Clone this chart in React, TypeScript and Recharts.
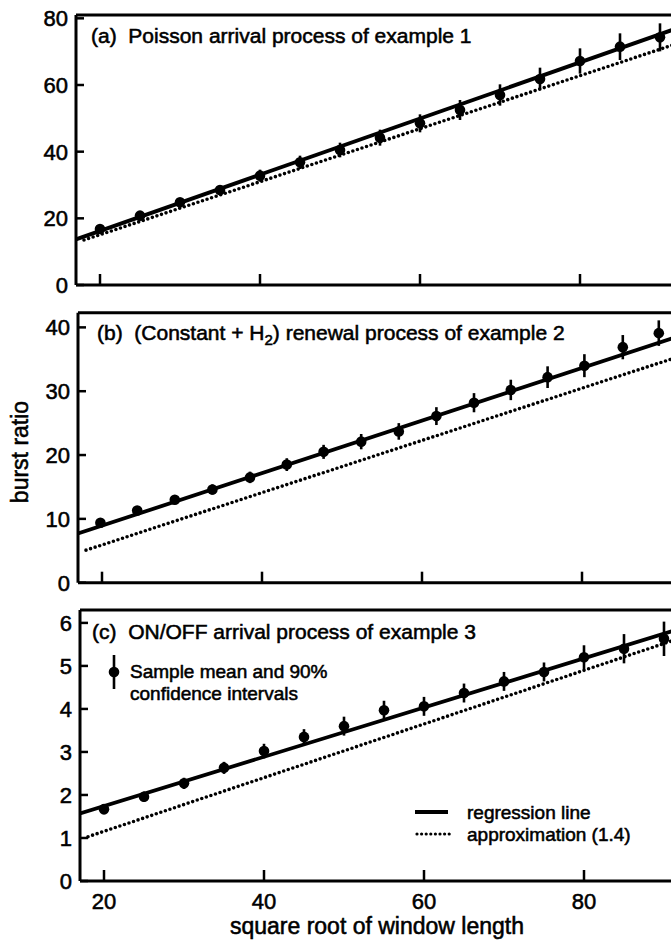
import React from 'react';
import { ComposedChart, Line, Scatter, XAxis, YAxis, ErrorBar, ReferenceLine } from 'recharts';

const FONT = '"Liberation Sans", Arial, Helvetica, sans-serif';
const TXT_STROKE = 0.55;

// shared x axis
const xDomain = [17, 94];
const xTicks = [20, 40, 60, 80];

// panel (a): Poisson arrival process of example 1
const xA = [20, 25, 30, 35, 40, 45, 50, 55, 60, 65, 70, 75, 80, 85, 90];
const meanA = [16.8, 20.8, 24.8, 28.5, 32.8, 36.8, 40.5, 44.2, 48.5, 52.5, 57.0, 61.8, 67.2, 71.5, 74.3];
const errA = [0.8, 1.0, 1.2, 1.5, 1.8, 2.0, 2.2, 2.4, 2.7, 3.0, 3.2, 3.4, 3.8, 4.0, 4.2];
const regXA = [17, 94];
const regYA = [13.7, 78.6];
const apxXA = [18, 94];
const apxYA = [13.5, 73.9];
const yTicksA = [0, 20, 40, 60, 80];
const yDomA = [0, 81];

// panel (b): (Constant + H2) renewal process of example 2
const xB = [19.8, 24.4, 29.1, 33.8, 38.5, 43.1, 47.7, 52.4, 57.1, 61.8, 66.5, 71.1, 75.7, 80.3, 85.1, 89.6];
const meanB = [9.4, 11.3, 13.0, 14.6, 16.5, 18.5, 20.5, 22.1, 23.7, 26.1, 28.2, 30.2, 32.2, 34.0, 36.9, 39.1];
const errB = [0.5, 0.6, 0.7, 0.8, 0.9, 1.0, 1.1, 1.2, 1.3, 1.4, 1.5, 1.6, 1.7, 1.8, 1.9, 2.0];
const regXB = [17, 94];
const regYB = [7.7, 39.4];
const apxXB = [18, 94];
const apxYB = [5.1, 36.2];
const yTicksB = [0, 10, 20, 30, 40];
const yDomB = [0, 42.3];

// panel (c): ON/OFF arrival process of example 3
const xC = [20, 25, 30, 35, 40, 45, 50, 55, 60, 65, 70, 75, 80, 85, 90];
const meanC = [1.67, 1.96, 2.27, 2.63, 3.02, 3.35, 3.6, 3.97, 4.06, 4.37, 4.64, 4.86, 5.2, 5.4, 5.63];
const errC = [0.12, 0.12, 0.13, 0.14, 0.17, 0.18, 0.22, 0.22, 0.22, 0.22, 0.22, 0.22, 0.28, 0.34, 0.4];
const regXC = [17, 94];
const regYC = [1.57, 5.98];
const apxXC = [18, 94];
const apxYC = [1.03, 5.77];
const yTicksC = [0, 1, 2, 3, 4, 5, 6];
const yDomC = [0, 6.3];

const toPts = (xs: number[], ys: number[], es: number[]) => xs.map((x, i) => ({ x, y: ys[i], e: es[i] }));
const toLine = (xs: number[], ys: number[]) => xs.map((x, i) => ({ x, y: ys[i] }));

const Y_MARGIN = 8;
const X_MARGIN = 12;

const makeYTick = () => (props: any) => {
  const { x, y, payload } = props;
  return (
    <g>
      <line x1={x + Y_MARGIN} x2={x + Y_MARGIN + 8} y1={y} y2={y} stroke="#000" strokeWidth={2.5} />
      <text
        x={x}
        y={y}
        dy="0.36em"
        textAnchor="end"
        fontFamily={FONT}
        fontSize={22}
        fill="#000"
        stroke="#000"
        strokeWidth={TXT_STROKE}
      >
        {payload.value}
      </text>
    </g>
  );
};

const makeXTick = (show: boolean) => (props: any) => {
  const { x, y, payload } = props;
  return (
    <g>
      <line x1={x} x2={x} y1={y - X_MARGIN} y2={y - X_MARGIN - 11} stroke="#000" strokeWidth={2.5} />
      {show ? (
        <text
          x={x}
          y={y}
          dy="0.72em"
          textAnchor="middle"
          fontFamily={FONT}
          fontSize={22}
          fill="#000"
          stroke="#000"
          strokeWidth={TXT_STROKE}
        >
          {payload.value}
        </text>
      ) : null}
    </g>
  );
};

const DotShape = (props: any) => <circle cx={props.cx} cy={props.cy} r={5.3} fill="#000" />;

type PanelProps = {
  pts: any[];
  reg: any[];
  apx: any[];
  yDomain: number[];
  yTicks: number[];
  showX: boolean;
  height: number;
  marginTop: number;
  xAxisH: number;
};

function Panel({ pts, reg, apx, yDomain, yTicks, showX, height, marginTop, xAxisH }: PanelProps) {
  return (
    <ComposedChart width={697} height={height} margin={{ top: marginTop, right: 5, left: 0, bottom: 0 }}>
      <XAxis
        type="number"
        dataKey="x"
        domain={xDomain}
        ticks={xTicks}
        allowDataOverflow
        height={xAxisH}
        interval={0}
        axisLine={{ stroke: '#000', strokeWidth: 3 }}
        tickLine={false}
        tickSize={0}
        tickMargin={X_MARGIN}
        tick={makeXTick(showX)}
      />
      <YAxis
        type="number"
        dataKey="y"
        domain={yDomain}
        ticks={yTicks}
        allowDataOverflow
        width={76}
        interval={0}
        axisLine={{ stroke: '#000', strokeWidth: 3 }}
        tickLine={false}
        tickSize={0}
        tickMargin={Y_MARGIN}
        tick={makeYTick()}
      />
      <ReferenceLine y={yDomain[1]} stroke="#000" strokeWidth={3} ifOverflow="visible" />
      <Line
        data={apx}
        dataKey="y"
        stroke="#000"
        strokeWidth={3.6}
        strokeDasharray="0 4.8"
        strokeLinecap="round"
        dot={false}
        activeDot={false}
        isAnimationActive={false}
      />
      <Line
        data={reg}
        dataKey="y"
        stroke="#000"
        strokeWidth={3.8}
        dot={false}
        activeDot={false}
        isAnimationActive={false}
      />
      <Scatter data={pts} dataKey="y" shape={DotShape} isAnimationActive={false}>
        <ErrorBar dataKey="e" direction="y" width={0} stroke="#000" strokeWidth={2.6} />
      </Scatter>
    </ComposedChart>
  );
}

export default function App() {
  const txt = { fontFamily: FONT, fill: '#000', stroke: '#000', strokeWidth: TXT_STROKE } as const;
  return (
    <div
      style={{
        position: 'absolute',
        left: 0,
        top: 0,
        width: 671,
        height: 945,
        overflow: 'hidden',
        background: '#fff',
      }}
    >
      <div style={{ position: 'absolute', left: 0, top: 0 }}>
        <Panel
          pts={toPts(xA, meanA, errA)}
          reg={toLine(regXA, regYA)}
          apx={toLine(apxXA, apxYA)}
          yDomain={yDomA}
          yTicks={yTicksA}
          showX={false}
          height={300}
          marginTop={15}
          xAxisH={15}
        />
      </div>
      <div style={{ position: 'absolute', left: 2, top: 297 }}>
        <Panel
          pts={toPts(xB, meanB, errB)}
          reg={toLine(regXB, regYB)}
          apx={toLine(apxXB, apxYB)}
          yDomain={yDomB}
          yTicks={yTicksB}
          showX={false}
          height={300}
          marginTop={15.7}
          xAxisH={14.3}
        />
      </div>
      <div style={{ position: 'absolute', left: 4, top: 595 }}>
        <Panel
          pts={toPts(xC, meanC, errC)}
          reg={toLine(regXC, regYC)}
          apx={toLine(apxXC, apxYC)}
          yDomain={yDomC}
          yTicks={yTicksC}
          showX={true}
          height={350}
          marginTop={15}
          xAxisH={64}
        />
      </div>
      <svg
        width={671}
        height={945}
        style={{ position: 'absolute', left: 0, top: 0, pointerEvents: 'none' }}
      >
        <text x={91} y={42.5} fontSize={21} {...txt} style={{ whiteSpace: 'pre' }}>
          (a)  Poisson arrival process of example 1
        </text>
        <text x={97} y={340} fontSize={21} {...txt} style={{ whiteSpace: 'pre' }}>
          (b)  (Constant + H<tspan dy={5} fontSize={15}>2</tspan>
          <tspan dy={-5}>) renewal process of example 2</tspan>
        </text>
        <text x={92} y={639} fontSize={21} {...txt} style={{ whiteSpace: 'pre' }}>
          (c)  ON/OFF arrival process of example 3
        </text>
        {/* sample legend */}
        <line x1={114} x2={114} y1={655} y2={689} stroke="#000" strokeWidth={2.6} />
        <circle cx={114} cy={672} r={5.3} fill="#000" />
        <text x={130} y={678} fontSize={19} {...txt}>
          Sample mean and 90%
        </text>
        <text x={130} y={700} fontSize={19} {...txt}>
          confidence intervals
        </text>
        {/* line legend */}
        <line x1={415} x2={448} y1={812} y2={812} stroke="#000" strokeWidth={3.8} />
        <text x={467} y={818.5} fontSize={19} {...txt}>
          regression line
        </text>
        <line
          x1={417}
          x2={450}
          y1={834}
          y2={834}
          stroke="#000"
          strokeWidth={3.2}
          strokeDasharray="0 4.6"
          strokeLinecap="round"
        />
        <text x={467} y={840.5} fontSize={19} {...txt}>
          approximation (1.4)
        </text>
        {/* axis titles */}
        <text x={377} y={934} fontSize={23} textAnchor="middle" {...txt}>
          square root of window length
        </text>
        <text x={28} y={452} fontSize={23} textAnchor="middle" transform="rotate(-90 28 452)" {...txt}>
          burst ratio
        </text>
      </svg>
    </div>
  );
}
